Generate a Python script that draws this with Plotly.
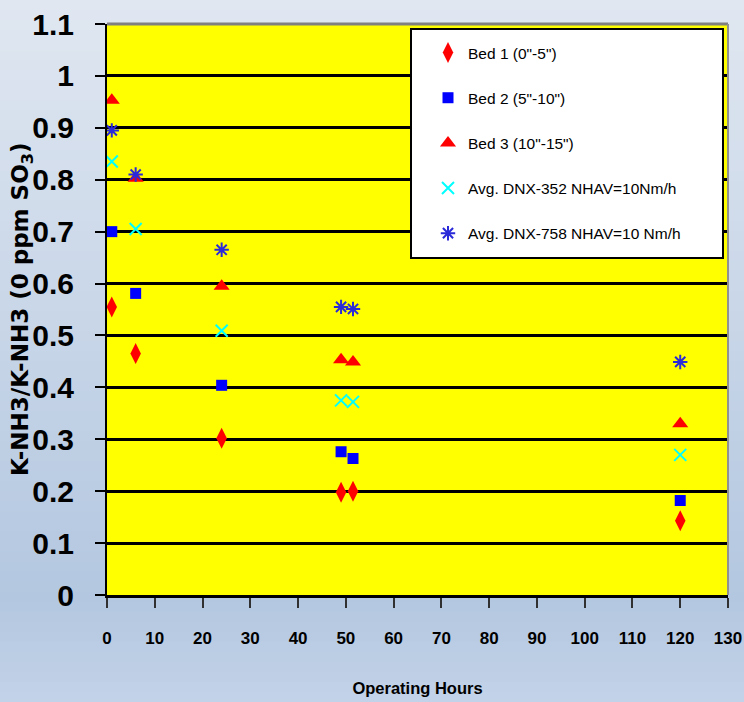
import plotly.graph_objects as go

# ---------------- data ----------------
hours = [1, 6, 24, 49, 51.5, 120]
bed1 = [0.555, 0.465, 0.302, 0.198, 0.200, 0.143]
bed2 = [0.700, 0.581, 0.404, 0.276, 0.263, 0.182]
bed3 = [0.953, 0.803, 0.595, 0.453, 0.449, 0.330]
dnx352 = [0.835, 0.705, 0.509, 0.375, 0.372, 0.270]
dnx758 = [0.895, 0.810, 0.665, 0.555, 0.551, 0.449]

series_names = ['Bed 1 (0"-5")', 'Bed 2 (5"-10")', 'Bed 3 (10"-15")',
                'Avg. DNX-352 NHAV=10Nm/h', 'Avg. DNX-758 NHAV=10 Nm/h']
series_values = [bed1, bed2, bed3, dnx352, dnx758]

y_tickvals = [0, 0.1, 0.2, 0.3, 0.4, 0.5, 0.6, 0.7, 0.8, 0.9, 1.0, 1.1]
y_ticktext = ["0", "0.1", "0.2", "0.3", "0.4", "0.5", "0.6", "0.7", "0.8", "0.9", "1", "1.1"]
x_tickvals = [0, 10, 20, 30, 40, 50, 60, 70, 80, 90, 100, 110, 120, 130]
x_ticktext = [str(v) for v in x_tickvals]

x_title = "Operating Hours"
y_title = "K-NH3/K-NH3 (0 ppm SO<sub>3</sub>)"

# ---------------- styles ----------------
styles = [
    dict(symbol="diamond-tall", color="#ff0000", size=15, line=dict(width=0)),
    dict(symbol="square", color="#0000ff", size=11, line=dict(width=0)),
    dict(symbol="triangle-up", color="#ff0000", size=14, line=dict(width=0)),
    dict(symbol="x-thin-open", color="#00ffff", size=12, line=dict(width=2, color="#00ffff")),
    dict(symbol="asterisk-open", color="#2a2ad8", size=12, line=dict(width=2, color="#2a2ad8")),
]

SANS = "Liberation Sans, Arial, sans-serif"

W, H = 744, 702
ML, MR, MT, MB = 107, 16, 24, 107
PW, PH = W - ML - MR, H - MT - MB

fig = go.Figure()
for i, (name, vals, st) in enumerate(zip(series_names, series_values, styles)):
    fig.add_trace(go.Scatter(
        x=hours, y=vals, mode="markers", name=name,
        legendgroup=f"g{i}",
        marker=st,
    ))

# background gradient bands (paper coords spanning the whole figure)
def lerp(c1, c2, t):
    return tuple(round(a + (b - a) * t) for a, b in zip(c1, c2))

top_c = (0xE0, 0xE7, 0xF1)
mid_c = (0xB3, 0xC7, 0xE0)
bot_c = (0xC3, 0xD3, 0xE8)
shapes = []
nb = 70
for k in range(nb):
    py0 = H * k / nb
    py1 = H * (k + 1) / nb + 1
    pm = (py0 + py1) / 2
    if pm < 600:
        c = lerp(top_c, mid_c, pm / 600)
    else:
        c = lerp(mid_c, bot_c, (pm - 600) / (H - 600))
    shapes.append(dict(
        type="rect", xref="paper", yref="paper", layer="below",
        x0=-ML / PW, x1=1 + MR / PW,
        y0=(H - MB - py1) / PH, y1=(H - MB - py0) / PH,
        fillcolor="rgb(%d,%d,%d)" % c, line=dict(width=0),
    ))
# yellow plot area
shapes.append(dict(type="rect", xref="paper", yref="paper", layer="below",
                   x0=0, x1=1, y0=0, y1=1, fillcolor="#ffff00", line=dict(width=0)))
# gray top / right frame
shapes.append(dict(type="line", xref="paper", yref="paper", layer="above",
                   x0=0, x1=1, y0=1, y1=1, line=dict(color="#808080", width=3)))
shapes.append(dict(type="line", xref="paper", yref="paper", layer="above",
                   x0=1, x1=1, y0=0, y1=1, line=dict(color="#909090", width=2)))

def px_x(px):
    return (px - ML) / PW

def px_y(py):
    return (H - MB - py) / PH

# legend box
shapes.append(dict(type="rect", xref="paper", yref="paper", layer="above",
                   x0=px_x(411), x1=px_x(723), y0=px_y(258), y1=px_y(29),
                   fillcolor="#ffffff", line=dict(color="#000000", width=2)))

fig.update_layout(
    width=W, height=H,
    margin=dict(l=ML, r=MR, t=MT, b=MB, autoexpand=False),
    paper_bgcolor="#d0dcec",
    plot_bgcolor="rgba(0,0,0,0)",
    shapes=shapes,
    showlegend=True,
    legend=dict(
        x=px_x(428), y=px_y(36), xanchor="left", yanchor="top",
        bgcolor="rgba(0,0,0,0)", borderwidth=0,
        font=dict(family=SANS, size=15.5, color="#000000"),
        tracegroupgap=22, itemwidth=30,
    ),
    annotations=[dict(
        text=y_title, textangle=-90, showarrow=False,
        xref="paper", yref="paper", x=px_x(22), y=px_y(310),
        xanchor="center", yanchor="middle",
        font=dict(family="DejaVu Sans, sans-serif", size=23,
                  color="#000000", weight="bold"),
    )],
    xaxis=dict(
        range=[0, 130], tickvals=x_tickvals, ticktext=x_ticktext,
        showgrid=False, zeroline=False,
        showline=True, linecolor="#000000", linewidth=3,
        ticks="outside", ticklen=10, tickwidth=2, tickcolor="#303030",
        ticklabelstandoff=16,
        tickfont=dict(family=SANS, size=17, color="#000000", weight="bold"),
        title=dict(text=x_title, standoff=36,
                   font=dict(family=SANS, size=16.5, color="#000000", weight="bold")),
        automargin=False,
    ),
    yaxis=dict(
        range=[0, 1.1], tickvals=y_tickvals, ticktext=y_ticktext,
        showgrid=True, gridcolor="#000000", gridwidth=2.5,
        zeroline=False,
        showline=True, linecolor="#000000", linewidth=2,
        ticks="outside", ticklen=10, tickwidth=2, tickcolor="#000000",
        ticklabelstandoff=15,
        tickfont=dict(family=SANS, size=30, color="#000000", weight="bold"),
        automargin=False,
    ),
)

fig.write_html("out.html", config={"displayModeBar": False},
               post_script="document.body.style.margin='0';")
